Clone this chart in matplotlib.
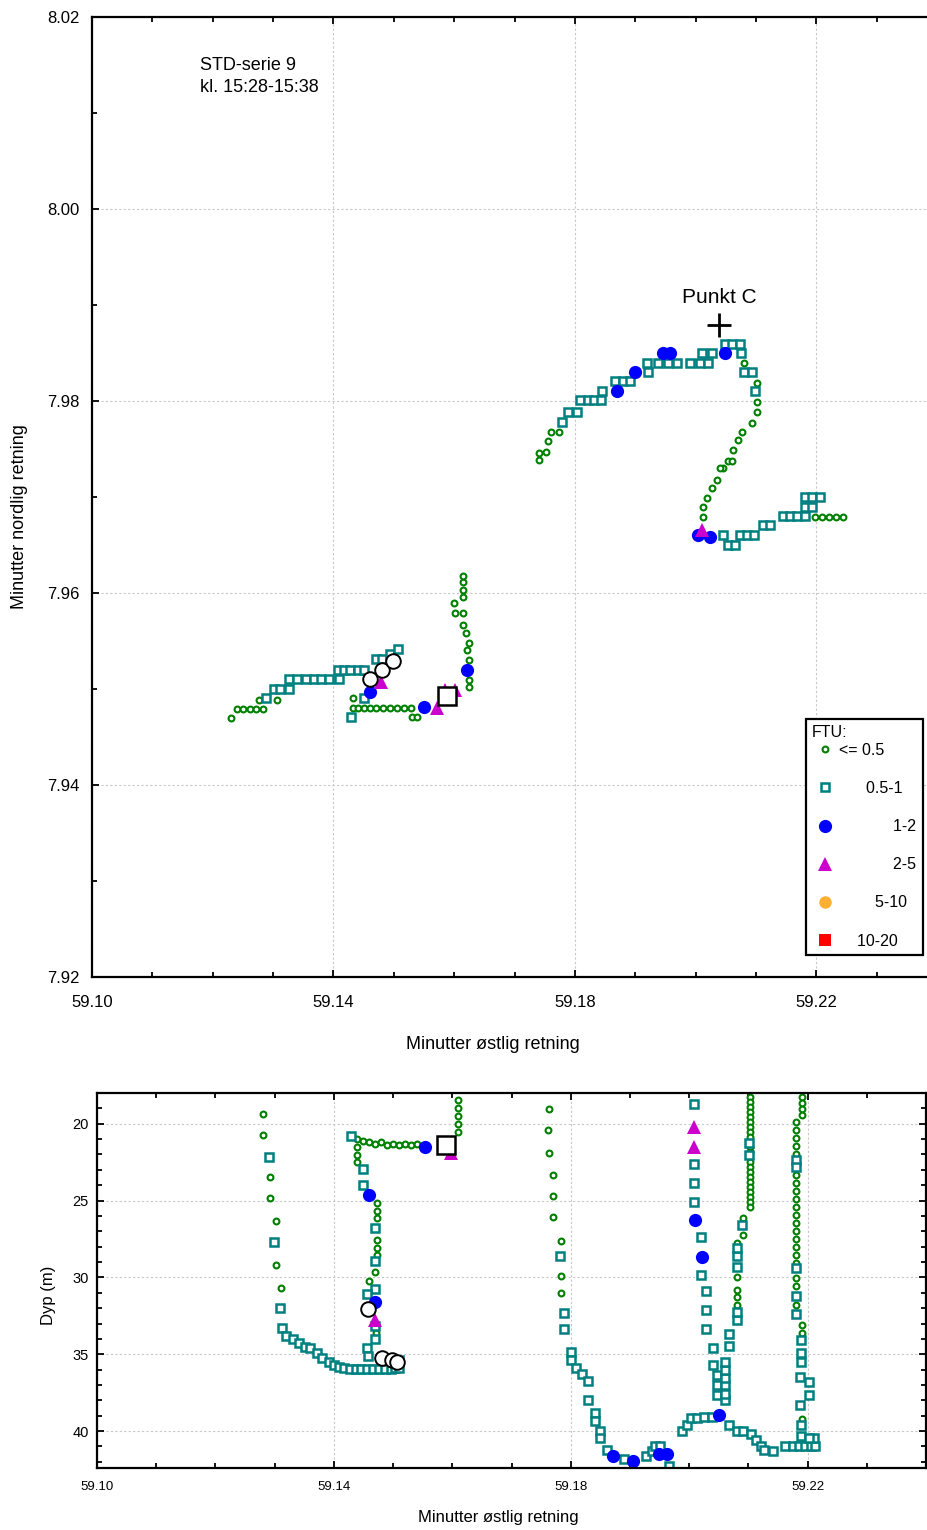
import matplotlib
matplotlib.use('Agg')
import matplotlib.pyplot as plt
from matplotlib.lines import Line2D
from matplotlib.ticker import MultipleLocator, FixedLocator, FormatStrFormatter

plt.rcParams['font.family'] = ['Liberation Sans', 'DejaVu Sans']

# ---------------- kart (lengde / bredde) ----------------
# FTU <= 0.5
kart_lav_lon = [59.1231, 59.1241, 59.1251, 59.1261, 59.1272, 59.1284, 59.1277, 59.1306,
                59.1433, 59.1433, 59.1441, 59.1451, 59.1461, 59.1470, 59.1482, 59.1493,
                59.1505, 59.1517, 59.1528, 59.1530, 59.1538,
                59.1624, 59.1624, 59.1624, 59.1622, 59.1624, 59.1620, 59.1614, 59.1602,
                59.1614, 59.1599, 59.1614, 59.1614, 59.1614, 59.1614,
                59.1741, 59.1741, 59.1753, 59.1756, 59.1760, 59.1773,
                59.2081, 59.2101, 59.2101, 59.2101, 59.2093, 59.2077, 59.2071, 59.2062,
                59.2054, 59.2061, 59.2046, 59.2041, 59.2036, 59.2028, 59.2019, 59.2013,
                59.2013, 59.2198, 59.2210, 59.2221, 59.2233, 59.2244]
kart_lav_lat = [7.9470, 7.9479, 7.9479, 7.9479, 7.9479, 7.9479, 7.9489, 7.9489,
                7.9491, 7.9480, 7.9480, 7.9480, 7.9480, 7.9480, 7.9480, 7.9480,
                7.9480, 7.9480, 7.9480, 7.9471, 7.9471,
                7.9502, 7.9509, 7.9530, 7.9541, 7.9548, 7.9558, 7.9567, 7.9579,
                7.9579, 7.9590, 7.9596, 7.9603, 7.9611, 7.9618,
                7.9739, 7.9746, 7.9747, 7.9758, 7.9768, 7.9768,
                7.9840, 7.9819, 7.9799, 7.9789, 7.9777, 7.9768, 7.9759, 7.9749,
                7.9738, 7.9738, 7.9730, 7.9730, 7.9718, 7.9709, 7.9699, 7.9690,
                7.9679, 7.9679, 7.9679, 7.9679, 7.9679, 7.9679]

# FTU 0.5-1
kart_05_lon = [59.1289, 59.1301, 59.1311, 59.1327, 59.1327, 59.1340, 59.1354, 59.1367,
               59.1380, 59.1393, 59.1410, 59.1407, 59.1417, 59.1428, 59.1440, 59.1451,
               59.1470, 59.1480, 59.1493, 59.1507, 59.1450, 59.1429,
               59.1779, 59.1789, 59.1804, 59.1809, 59.1821, 59.1832, 59.1844, 59.1845,
               59.1867, 59.1879, 59.1892, 59.1922,
               59.1920, 59.1937, 59.1954, 59.1970, 59.1990, 59.2007, 59.2020,
               59.2010, 59.2027, 59.2076, 59.2049, 59.2061, 59.2074,
               59.2081, 59.2094, 59.2098,
               59.2046, 59.2054, 59.2066, 59.2074, 59.2085, 59.2096, 59.2111, 59.2123,
               59.2145, 59.2156, 59.2168, 59.2181, 59.2181, 59.2193, 59.2181, 59.2193,
               59.2206]
kart_05_lat = [7.9491, 7.9500, 7.9500, 7.9500, 7.9510, 7.9510, 7.9510, 7.9510,
               7.9510, 7.9510, 7.9510, 7.9520, 7.9520, 7.9520, 7.9520, 7.9520,
               7.9531, 7.9531, 7.9536, 7.9542, 7.9491, 7.9471,
               7.9778, 7.9789, 7.9789, 7.9801, 7.9801, 7.9801, 7.9801, 7.9810,
               7.9821, 7.9821, 7.9821, 7.9830,
               7.9840, 7.9840, 7.9840, 7.9840, 7.9840, 7.9840, 7.9840,
               7.9850, 7.9850, 7.9850, 7.9859, 7.9859, 7.9859,
               7.9830, 7.9830, 7.9810,
               7.9660, 7.9650, 7.9650, 7.9660, 7.9660, 7.9660, 7.9671, 7.9671,
               7.9680, 7.9680, 7.9680, 7.9680, 7.9690, 7.9690, 7.9700, 7.9700,
               7.9700]

# FTU 1-2
kart_1_lon = [59.1461, 59.1550, 59.1621, 59.1870, 59.1900, 59.1946, 59.1957, 59.2048,
              59.2004, 59.2024]
kart_1_lat = [7.9497, 7.9481, 7.9520, 7.9810, 7.9830, 7.9850, 7.9850, 7.9850,
              7.9660, 7.9658]

# FTU 2-5
kart_2_lon = [59.1585, 59.1601, 59.1571, 59.1478, 59.2011]
kart_2_lat = [7.9499, 7.9499, 7.9480, 7.9507, 7.9666]

# høyere verdier (svarte symboler)
kart_sirkel_lon = [59.1460, 59.1480, 59.1498]
kart_sirkel_lat = [7.9510, 7.9520, 7.9529]
kart_kvadrat_lon = [59.1588]
kart_kvadrat_lat = [7.9493]

punkt_c = (59.2039, 7.9879)

# ---------------- dybdeprofil (lengde / dyp) ----------------
dyp_lav_lon = [59.1280, 59.1280, 59.1292, 59.1292, 59.1302, 59.1302, 59.1310,
               59.1439, 59.1449, 59.1459, 59.1469, 59.1479, 59.1490, 59.1500, 59.1510,
               59.1520, 59.1530, 59.1540,
               59.1609, 59.1609, 59.1609, 59.1609, 59.1609,
               59.1439, 59.1439, 59.1439, 59.1473, 59.1473, 59.1473, 59.1473, 59.1473,
               59.1473, 59.1469, 59.1459, 59.1471,
               59.1763, 59.1761, 59.1763, 59.1770, 59.1770, 59.1770, 59.1783, 59.1783,
               59.1783,
               59.2103, 59.2103, 59.2103, 59.2103, 59.2103, 59.2103, 59.2103, 59.2103,
               59.2103, 59.2103, 59.2103, 59.2103, 59.2103, 59.2103, 59.2103, 59.2103,
               59.2103, 59.2103, 59.2103, 59.2103, 59.2103,
               59.2091, 59.2091, 59.2080, 59.2080, 59.2080, 59.2080, 59.2080,
               59.2190, 59.2190, 59.2190, 59.2190,
               59.2180, 59.2180, 59.2180, 59.2180, 59.2180, 59.2180, 59.2180, 59.2180,
               59.2180, 59.2180, 59.2180, 59.2180, 59.2180, 59.2180, 59.2180, 59.2180,
               59.2180, 59.2180, 59.2180, 59.2180,
               59.2190, 59.2190, 59.2190]
dyp_lav_d = [19.35, 20.72, 23.46, 24.83, 26.33, 29.20, 30.70,
             21.0, 21.1, 21.2, 21.3, 21.2, 21.4, 21.3, 21.4,
             21.3, 21.4, 21.3,
             18.43, 18.96, 19.48, 20.00, 20.52,
             21.50, 22.02, 22.48, 25.15, 25.68, 26.13, 27.57, 28.09,
             28.55, 29.65, 30.24, 33.63,
             19.02, 20.39, 21.89, 23.33, 24.70, 26.07, 27.63, 29.92,
             31.02,
             18.24, 18.56, 18.89, 19.22, 19.54, 19.87, 20.20, 20.52,
             20.85, 21.50, 21.83, 22.48, 22.81, 23.13, 23.46, 23.78,
             24.11, 24.44, 24.76, 25.09, 25.41,
             26.13, 27.24, 27.76, 29.98, 30.83, 31.29, 31.81,
             18.24, 18.63, 19.02, 19.41,
             19.87, 20.39, 20.91, 21.44, 21.96, 23.33, 23.85, 24.37,
             24.89, 25.41, 25.94, 26.46, 26.98, 27.50, 28.02, 28.55,
             29.07, 30.05, 30.57, 31.81,
             33.11, 33.63, 39.18]

dyp_05_lon = [59.1290, 59.1299, 59.1309, 59.1312, 59.1319, 59.1331, 59.1341, 59.1351,
              59.1359, 59.1371, 59.1380, 59.1392, 59.1400, 59.1408, 59.1417, 59.1427,
              59.1437, 59.1446, 59.1456, 59.1466, 59.1476, 59.1486, 59.1496, 59.1503,
              59.1510, 59.1510,
              59.1429, 59.1449, 59.1449, 59.1469, 59.1469, 59.1469, 59.1456, 59.1469,
              59.1469, 59.1456, 59.1457,
              59.1782, 59.1788, 59.1788, 59.1800, 59.1800, 59.1809, 59.1819, 59.1829,
              59.1829, 59.1841, 59.1841, 59.1849, 59.1849, 59.1861, 59.1890, 59.1927,
              59.1937, 59.1942, 59.1951, 59.1966,
              59.1988, 59.1996, 59.2003, 59.2013, 59.2025, 59.2038,
              59.2008, 59.2008, 59.2008, 59.2008, 59.2020, 59.2020, 59.2028, 59.2028,
              59.2028, 59.2040, 59.2040, 59.2047, 59.2047, 59.2047,
              59.2060, 59.2060, 59.2060, 59.2060, 59.2060, 59.2060, 59.2067, 59.2067,
              59.2080, 59.2080, 59.2080, 59.2080, 59.2080, 59.2089, 59.2101, 59.2101,
              59.2067, 59.2080, 59.2091, 59.2105, 59.2113, 59.2122, 59.2127, 59.2142,
              59.2162, 59.2176, 59.2186, 59.2196, 59.2206, 59.2213, 59.2211,
              59.2180, 59.2180, 59.2180, 59.2180, 59.2180, 59.2189, 59.2189, 59.2189,
              59.2187, 59.2202, 59.2202, 59.2187, 59.2189, 59.2189, 59.2202]
dyp_05_d = [22.15, 27.70, 32.00, 33.30, 33.83, 34.02, 34.28, 34.54,
            34.61, 34.94, 35.26, 35.52, 35.72, 35.85, 35.92, 35.98,
            35.98, 35.98, 35.98, 35.98, 35.98, 35.98, 35.98, 35.92,
            35.92, 35.39,
            20.78, 22.94, 23.98, 26.78, 28.94, 30.76, 31.09, 33.17,
            34.03, 34.61, 35.13,
            28.61, 32.33, 33.37, 34.87, 35.39, 35.92, 36.31, 36.77,
            38.00, 38.79, 39.37, 39.96, 40.42, 41.20, 41.79, 41.59,
            41.27, 41.00, 41.00, 42.24,
            39.96, 39.63, 39.17, 39.17, 39.11, 39.05,
            18.70, 22.61, 23.85, 25.09, 27.37, 29.85, 30.89, 32.13,
            33.37, 34.61, 35.72, 36.37, 37.03, 37.68,
            38.00, 37.61, 37.03, 36.57, 36.05, 35.52, 34.48, 33.70,
            32.79, 32.26, 29.33, 28.61, 28.09, 26.59, 21.24, 22.02,
            39.63, 39.96, 39.96, 40.22, 40.61, 40.94, 41.20, 41.27,
            40.94, 40.94, 40.94, 40.94, 40.94, 40.94, 40.48,
            22.35, 22.81, 29.39, 31.22, 32.39, 34.09, 34.94, 35.52,
            36.50, 36.83, 37.68, 38.33, 39.63, 40.29, 40.42]

dyp_1_lon = [59.1554, 59.1459, 59.1469, 59.1871, 59.1905, 59.1949, 59.1962, 59.2010,
             59.2022, 59.2050]
dyp_1_d = [21.50, 24.63, 31.61, 41.59, 41.92, 41.46, 41.46, 26.26,
           28.68, 38.98]

dyp_2_lon = [59.1598, 59.1469, 59.2008, 59.2008]
dyp_2_d = [21.89, 32.78, 20.20, 21.50]

dyp_sirkel_lon = [59.1457, 59.1481, 59.1498, 59.1506]
dyp_sirkel_d = [32.07, 35.26, 35.39, 35.52]
dyp_kvadrat_lon = [59.1589]
dyp_kvadrat_d = [21.37]

x_ticks = [59.10, 59.14, 59.18, 59.22]

# symboler for FTU-klassene
stil_lav = dict(marker='o', ms=4.2, mfc='white', mec='#008000', mew=1.5, ls='none')
stil_05 = dict(marker='s', ms=5.8, mfc='white', mec='#008080', mew=1.8, ls='none')
stil_1 = dict(marker='o', ms=9.5, mfc='#0000ff', mec='#0000ff', mew=0, ls='none')
stil_2 = dict(marker='^', ms=10.5, mfc='#cc00cc', mec='#cc00cc', mew=0, ls='none')
stil_5 = dict(marker='o', ms=9, mfc='#ffb030', mec='#ffb030', mew=0, ls='none')
stil_10 = dict(marker='s', ms=8.5, mfc='#ff0000', mec='#ff0000', mew=0, ls='none')
stil_sirkel = dict(marker='o', ms=10.5, mfc='white', mec='black', mew=1.4, ls='none')
stil_kvadrat = dict(marker='s', ms=13, mfc='white', mec='black', mew=1.8, ls='none')

grid_kw = dict(color='#c8c8c8', linestyle=(0, (2, 2)), linewidth=0.8)

fig = plt.figure(figsize=(9.28, 15.30), dpi=100)

# ---------------- øverste figur ----------------
ax = fig.add_axes([92 / 928, 1 - 977 / 1530, 845 / 928, 960 / 1530])
ax.plot(kart_lav_lon, kart_lav_lat, **stil_lav)
ax.plot(kart_05_lon, kart_05_lat, **stil_05)
ax.plot(kart_1_lon, kart_1_lat, **stil_1)
ax.plot(kart_2_lon, kart_2_lat, **stil_2)
ax.plot(kart_sirkel_lon, kart_sirkel_lat, **stil_sirkel)
ax.plot(kart_kvadrat_lon, kart_kvadrat_lat, **stil_kvadrat)

ax.plot([punkt_c[0]], [punkt_c[1]], marker='+', ms=17, mew=2, color='black', ls='none')
ax.annotate('Punkt C', punkt_c, xytext=(0, 20), textcoords='offset points',
            ha='center', va='center', fontsize=15)

ax.text(0.128, 0.958, 'STD-serie 9\nkl. 15:28-15:38', transform=ax.transAxes,
        ha='left', va='top', fontsize=13, linespacing=1.35)

ax.set_xlim(59.10, 59.24)
ax.set_ylim(7.92, 8.02)
ax.xaxis.set_major_locator(FixedLocator(x_ticks))
ax.xaxis.set_minor_locator(MultipleLocator(0.01))
ax.yaxis.set_major_locator(MultipleLocator(0.02))
ax.yaxis.set_minor_locator(MultipleLocator(0.01))
ax.xaxis.set_major_formatter(FormatStrFormatter('%.2f'))
ax.yaxis.set_major_formatter(FormatStrFormatter('%.2f'))
ax.tick_params(which='both', direction='in', top=True, right=True, width=1.3)
ax.tick_params(which='major', length=5, labelsize=12, pad=9)
ax.tick_params(axis='x', which='major', pad=13)
ax.tick_params(which='minor', length=3.5)
ax.grid(True, which='major', **grid_kw)
ax.set_axisbelow(True)
for s in ax.spines.values():
    s.set_linewidth(1.6)

ax.set_xlabel('Minutter østlig retning', fontsize=13)
ax.xaxis.set_label_coords(0.4746, -0.061)
ax.set_ylabel('Minutter nordlig retning', fontsize=13)
ax.yaxis.set_label_coords(-0.076, 0.48)

# forklaring
handles = [Line2D([], [], **stil_lav), Line2D([], [], **stil_05), Line2D([], [], **stil_1),
           Line2D([], [], **stil_2), Line2D([], [], **stil_5), Line2D([], [], **stil_10)]
labels = ['<= 0.5', '      0.5-1', '            1-2', '            2-5',
          '        5-10', '    10-20']
leg = ax.legend(handles, labels, title='FTU:', loc='lower right',
                bbox_to_anchor=(0.983, 0.0229), borderaxespad=0, fontsize=11.5,
                title_fontsize=11.5, alignment='left', labelspacing=1.45,
                handlelength=1.6, handletextpad=0.1, borderpad=0.4,
                fancybox=False, framealpha=1, edgecolor='black')
leg.get_frame().set_linewidth(1.6)
leg._legend_box.sep = 2

# ---------------- nederste figur ----------------
bx = fig.add_axes([97 / 928, 1 - 1468 / 1530, 829 / 928, 375 / 1530])
bx.plot(dyp_lav_lon, dyp_lav_d, **stil_lav)
bx.plot(dyp_05_lon, dyp_05_d, **stil_05)
bx.plot(dyp_1_lon, dyp_1_d, **stil_1)
bx.plot(dyp_2_lon, dyp_2_d, **stil_2)
bx.plot(dyp_sirkel_lon, dyp_sirkel_d, **stil_sirkel)
bx.plot(dyp_kvadrat_lon, dyp_kvadrat_d, **stil_kvadrat)

bx.set_xlim(59.10, 59.24)
bx.set_ylim(42.4, 18.0)
bx.xaxis.set_major_locator(FixedLocator(x_ticks))
bx.xaxis.set_minor_locator(MultipleLocator(0.01))
bx.yaxis.set_major_locator(MultipleLocator(5))
bx.yaxis.set_minor_locator(MultipleLocator(1))
bx.xaxis.set_major_formatter(FormatStrFormatter('%.2f'))
bx.tick_params(which='both', direction='in', top=True, right=True, width=1.3)
bx.tick_params(which='major', length=5, labelsize=9.5, pad=9)
bx.tick_params(which='minor', length=3.5)
bx.tick_params(axis='y', which='major', labelsize=10.5, pad=6)
bx.grid(True, which='major', **grid_kw)
bx.set_axisbelow(True)
for s in bx.spines.values():
    s.set_linewidth(1.6)

bx.set_xlabel('Minutter østlig retning', fontsize=12)
bx.xaxis.set_label_coords(0.4837, -0.112)
bx.set_ylabel('Dyp (m)', fontsize=12)
bx.yaxis.set_label_coords(-0.05, 0.461)

fig.savefig('out.png', dpi=100)
